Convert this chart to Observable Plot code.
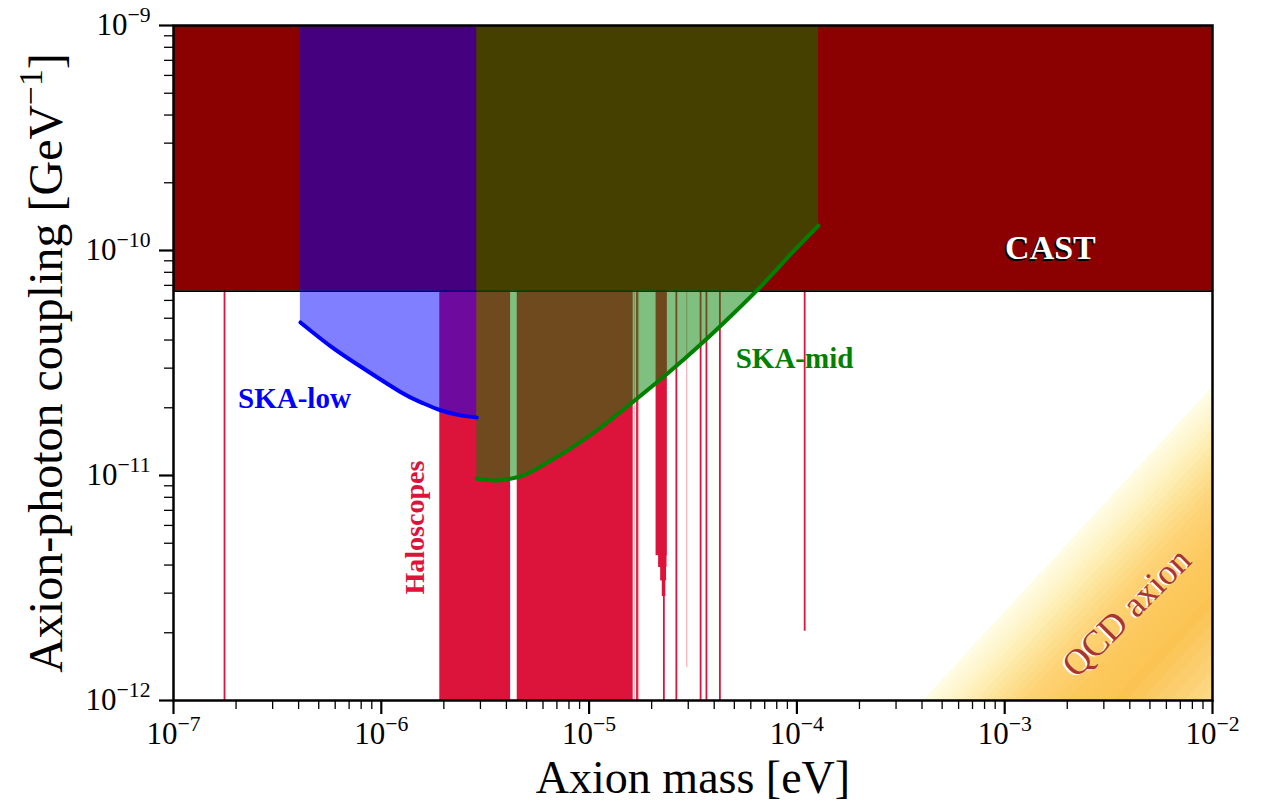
<!DOCTYPE html>
<html><head><meta charset="utf-8">
<script src="https://cdn.jsdelivr.net/npm/d3@7"></script>
<script src="https://cdn.jsdelivr.net/npm/@observablehq/plot@0.6"></script>
<style>
html,body{margin:0;padding:0;background:#fff;overflow:hidden}
</style>
</head><body><div id="chart"></div>
<script>
// ---- data ----
const xMajorTicks = [1e-7, 1e-6, 1e-5, 1e-4, 1e-3, 1e-2];
const yMajorTicks = [1e-12, 1e-11, 1e-10, 1e-9];
const xLabel = "Axion mass [eV]";
const yLabel = "Axion-photon coupling [GeV^{−1}]";

const castMass = [1e-7, 1e-2];
const castLimit = [6.6e-11, 6.6e-11];
const gTop = 1e-9;

const skaLowMass  = [4.08e-7, 5.69e-7, 7.94e-7, 1.237e-6, 1.544e-6, 1.927e-6, 2.405e-6, 2.88e-6];
const skaLowLimit = [4.79e-11, 3.76e-11, 3.05e-11, 2.35e-11, 2.12e-11, 1.95e-11, 1.85e-11, 1.81e-11];

const skaMidMass  = [2.88e-6, 3.62e-6, 4.68e-6, 5.40e-6, 7.87e-6, 1.135e-5, 1.636e-5, 2.384e-5, 3.437e-5, 4.953e-5, 6.91e-5, 9.32e-5, 1.27e-4];
const skaMidLimit = [9.7e-12, 9.5e-12, 9.9e-12, 1.052e-11, 1.29e-11, 1.63e-11, 2.133e-11, 2.84e-11, 3.82e-11, 5.25e-11, 7.13e-11, 9.60e-11, 1.29e-10];

const haloBlockLo     = [1.912e-6, 4.51e-6, 2.10e-5, 2.16e-5, 2.21e-5, 2.25e-5];
const haloBlockHi     = [4.19e-6, 1.63e-5, 2.376e-5, 2.37e-5, 2.36e-5, 2.34e-5];
const haloBlockBottom = [1e-12, 1e-12, 4.4e-12, 3.9e-12, 3.4e-12, 2.9e-12];

const haloLineMass   = [1.76e-7, 1.70e-5, 2.29e-5, 2.63e-5, 3.44e-5, 3.67e-5, 4.26e-5, 1.09e-4];
const haloLineBottom = [1e-12, 1e-12, 1e-12, 1e-12, 1e-12, 1e-12, 1e-12, 2.03e-12];
const haloFaintMass   = [1.65e-5, 1.73e-5, 2.95e-5];
const haloFaintBottom = [1e-12, 1e-12, 1.4e-12];

// QCD band: g / m ratios (GeV^-1 per eV) of the gradient layers, from the upper edge inward
const qcdRatio = [2.46e-9, 2.3e-9, 2.15e-9, 2.0e-9, 1.86e-9, 1.73e-9, 1.6e-9, 1.48e-9, 1.37e-9, 1.26e-9,
  1.16e-9, 1.07e-9, 9.8e-10, 9.0e-10, 8.2e-10, 7.5e-10, 6.8e-10, 6.2e-10, 5.6e-10, 5.0e-10,
  4.5e-10, 4.0e-10, 3.5e-10, 3.0e-10, 2.6e-10, 2.2e-10, 1.9e-10, 1.6e-10, 1.35e-10, 1.15e-10];
const qcdMassEnds = [1e-4, 1e-2];

// ---- build tables ----
const castRows = castMass.map((m, i) => ({m, g: castLimit[i]}));
const skaLowRows = skaLowMass.map((m, i) => ({m, g: skaLowLimit[i]}));
const skaMidRows = skaMidMass.map((m, i) => ({m, g: skaMidLimit[i]}));
const haloBlocks = haloBlockLo.map((lo, i) => ({lo, hi: haloBlockHi[i], b: haloBlockBottom[i]}));
const haloLines = haloLineMass.map((m, i) => ({m, b: haloLineBottom[i]}));
const haloFaint = haloFaintMass.map((m, i) => ({m, b: haloFaintBottom[i]}));

const qcdColor = d3.scaleLog()
  .domain([2.46e-9, 1.77e-9, 1.22e-9, 8.4e-10, 5e-10, 3e-10, 1.5e-10, 1e-10])
  .range(["#fffce4", "#fef3c4", "#fde49a", "#fdd377", "#fcc95e", "#fbc452", "#fcd27a", "#fcdc8c"])
  .interpolate(d3.interpolateRgb).clamp(true);
const qcdRows = [];
qcdRatio.forEach((r, k) => {
  qcdMassEnds.forEach(m => qcdRows.push({k, m, hi: r * m, lo: 1e-15, color: qcdColor(r)}));
});

const minorTicks = (lo, hi) => {
  const out = [];
  for (let e = lo; e < hi; e++) for (let j = 2; j <= 9; j++) out.push(j * Math.pow(10, e));
  return out;
};
const expFmt = d => `10^{${String(Math.round(Math.log10(d))).replace("-", "−")}}`;

const serif = "'Liberation Serif', 'DejaVu Serif', serif";
const TICK_FS = 31;

const plot = Plot.plot({
  width: 1266, height: 801,
  marginLeft: 173, marginRight: 54, marginTop: 25, marginBottom: 101,
  style: {fontFamily: serif, fontSize: TICK_FS + "px", background: "white", color: "black"},
  x: {type: "log", domain: [1e-7, 1e-2], label: null},
  y: {type: "log", domain: [1e-12, 1e-9], label: null},
  color: {type: "identity"},
  marks: [
    // QCD axion band (gradient layers)
    Plot.areaY(qcdRows, {x: "m", y1: "lo", y2: "hi", z: "k", fill: "color", clip: true}),
    // Haloscopes
    Plot.rect(haloBlocks, {x1: "lo", x2: "hi", y1: "b", y2: gTop, fill: "#dc143c"}),
    Plot.ruleX(haloLines, {x: "m", y1: "b", y2: gTop, stroke: "#dc143c", strokeWidth: 1.8}),
    Plot.ruleX(haloFaint, {x: "m", y1: "b", y2: gTop, stroke: "#dc143c", strokeWidth: 1.2, strokeOpacity: 0.35}),
    // CAST
    Plot.areaY(castRows, {x: "m", y1: "g", y2: gTop, fill: "#8b0000"}),
    Plot.lineY(castRows, {x: "m", y: "g", stroke: "black", strokeWidth: 1.6}),
    // SKA fills
    Plot.areaY(skaLowRows, {x: "m", y1: "g", y2: gTop, fill: "blue", fillOpacity: 0.5, curve: "natural"}),
    Plot.areaY(skaMidRows, {x: "m", y1: "g", y2: gTop, fill: "green", fillOpacity: 0.5, curve: "natural"}),
    Plot.lineY(skaLowRows, {x: "m", y: "g", stroke: "blue", strokeWidth: 4, curve: "natural"}),
    Plot.lineY(skaMidRows, {x: "m", y: "g", stroke: "green", strokeWidth: 4, curve: "natural"}),
    // labels
    Plot.text(["CAST"], {x: 1.66e-3, y: 1.02e-10, dx: -2, dy: 1.5, fill: "black", fontSize: 34, fontWeight: "bold"}),
    Plot.text(["CAST"], {x: 1.66e-3, y: 1.02e-10, fill: "white", fontSize: 34, fontWeight: "bold"}),
    Plot.text(["SKA-low"], {x: 3.82e-7, y: 2.2e-11, fill: "blue", fontSize: 29, fontWeight: "bold"}),
    Plot.text(["SKA-mid"], {x: 9.74e-5, y: 3.31e-11, fill: "green", fontSize: 29, fontWeight: "bold"}),
    Plot.text(["Haloscopes"], {x: 1.461e-6, y: 5.87e-12, rotate: -90, fill: "#dc143c", fontSize: 28, fontWeight: "bold"}),
    Plot.text(["QCD axion"], {x: 3.86e-3, y: 2.46e-12, dx: -2, dy: 1, rotate: -45, fill: "white", fontSize: 36}),
    Plot.text(["QCD axion"], {x: 3.86e-3, y: 2.46e-12, rotate: -45, fill: "#a93636", fontSize: 36}),
    // frame & axes
    Plot.frame({stroke: "black", strokeWidth: 2.5}),
    Plot.axisX({ticks: minorTicks(-7, -2), tickSize: 9, strokeWidth: 1.3, tickFormat: () => "", label: null}),
    Plot.axisX({ticks: xMajorTicks, tickSize: 14, strokeWidth: 2.2, tickPadding: 7, fontSize: TICK_FS, tickFormat: expFmt, label: null}),
    Plot.axisY({ticks: minorTicks(-12, -9), tickSize: 9, strokeWidth: 1.3, tickFormat: () => "", label: null}),
    Plot.axisY({ticks: yMajorTicks, tickSize: 14, strokeWidth: 2.2, tickPadding: 9, fontSize: TICK_FS, tickFormat: expFmt, label: null}),
    Plot.text([xLabel], {frameAnchor: "bottom", dy: 92, lineAnchor: "bottom", textAnchor: "middle", fontSize: 46, fill: "black"}),
    Plot.text([yLabel], {frameAnchor: "left", dx: -127, rotate: -90, lineAnchor: "middle", textAnchor: "middle", fontSize: 48, fill: "black"})
  ]
});

document.getElementById("chart").appendChild(plot);

// make sure tick labels use the intended size
plot.querySelectorAll('g[aria-label$="tick label"] text').forEach(t => {
  t.style.fontSize = TICK_FS + "px";
});

// render "^{...}" as superscripts
plot.querySelectorAll("text").forEach(t => {
  const s = t.textContent;
  if (!s.includes("^{")) return;
  const fs = parseFloat(getComputedStyle(t).fontSize) || TICK_FS;
  const parts = s.split(/\^\{(.*?)\}/);
  t.textContent = "";
  const shift = 0.42 * fs;
  let raised = false;
  parts.forEach((p, i) => {
    if (!p) return;
    const ts = document.createElementNS("http://www.w3.org/2000/svg", "tspan");
    ts.textContent = p;
    if (i % 2 === 1) { ts.style.fontSize = (0.7 * fs).toFixed(1) + "px"; ts.setAttribute("dy", (-shift).toFixed(1)); raised = true; }
    else if (raised) { ts.setAttribute("dy", shift.toFixed(1)); raised = false; }
    t.appendChild(ts);
  });
});
</script>
</body></html>
